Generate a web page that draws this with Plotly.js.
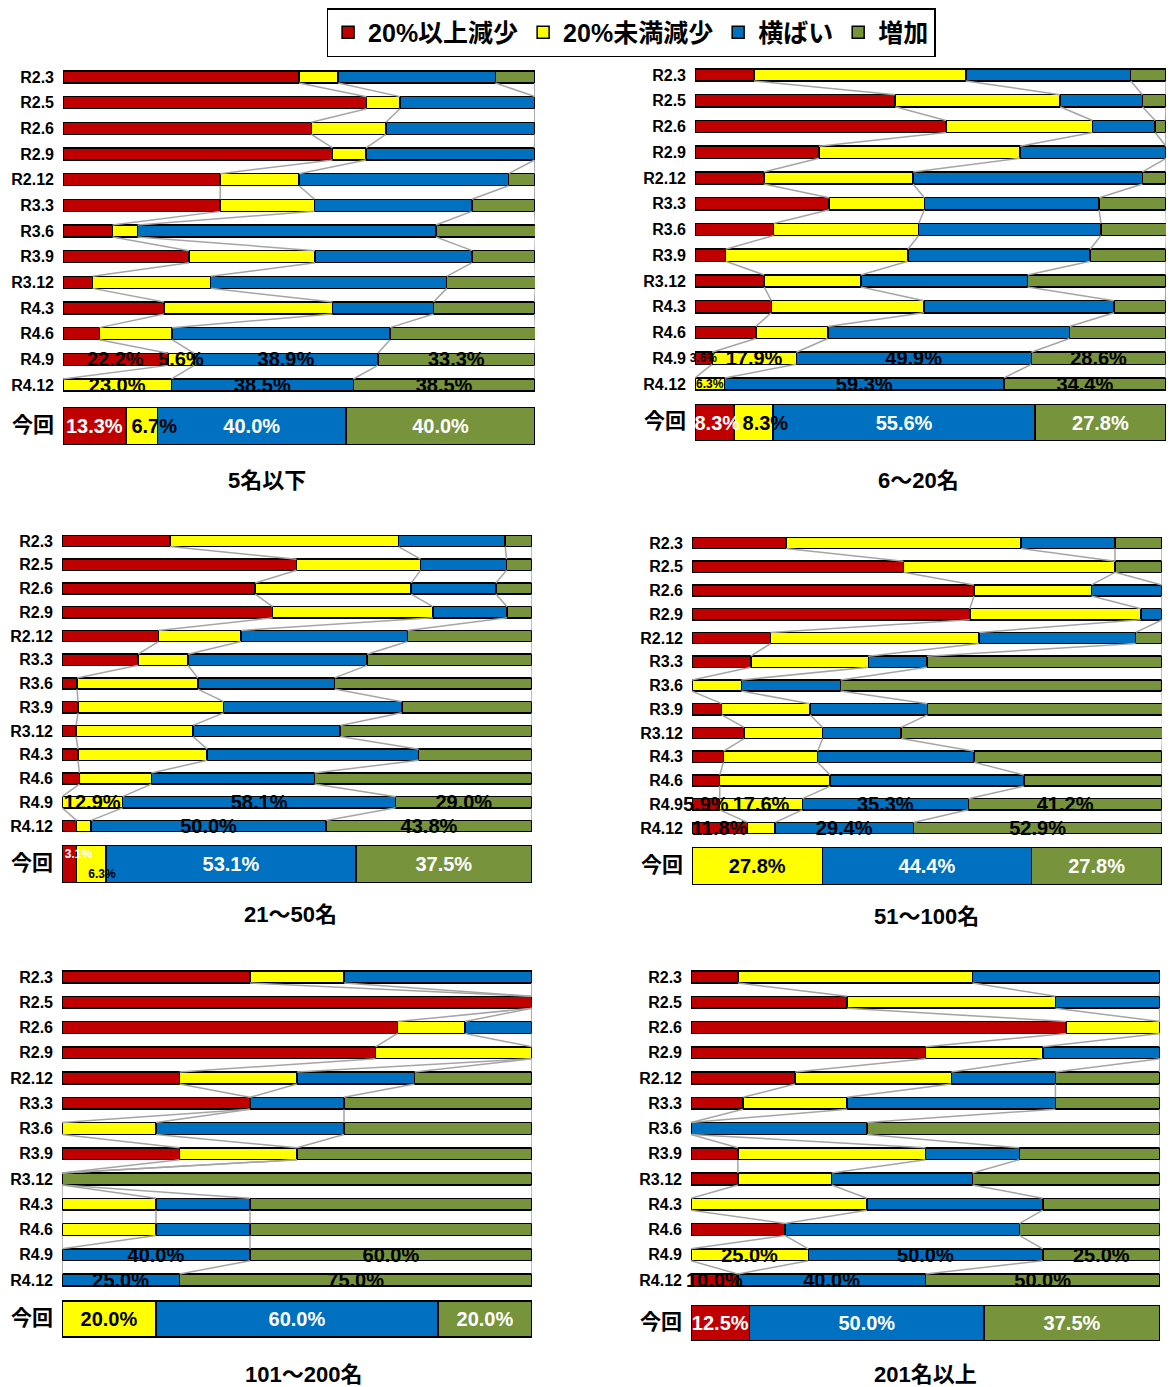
<!DOCTYPE html>
<html>
<head>
<meta charset="utf-8">
<script src="https://cdn.plot.ly/plotly-3.0.1.min.js"></script>
<style>
  body { margin: 0; background: #fff; }
  #chart { width: 1173px; height: 1387px; }
</style>
</head>
<body>
<div id="chart"></div>
<script>
// row labels (last one is the current survey)
var rows = ["R2.3", "R2.5", "R2.6", "R2.9", "R2.12", "R3.3", "R3.6", "R3.9", "R3.12", "R4.3", "R4.6", "R4.9", "R4.12", "今回"];
var seriesNames = ["20%以上減少", "20%未満減少", "横ばい", "増加"];
var seriesColors = ["#C00000", "#FFFF00", "#0070C0", "#77933C"];

// 5名以下
var p1Red    = [50.0, 64.3, 52.6, 57.1, 33.3, 33.3, 10.5, 26.7, 6.3, 21.4, 7.7, 22.2, 0, 13.3];
var p1Yellow = [8.3, 7.1, 15.8, 7.1, 16.7, 20.0, 5.3, 26.7, 25.0, 35.7, 15.4, 5.6, 23.0, 6.7];
var p1Blue   = [33.3, 28.6, 31.6, 35.7, 44.4, 33.3, 63.2, 33.3, 50.0, 21.4, 46.2, 38.9, 38.5, 40.0];
var p1Green  = [8.3, 0, 0, 0, 5.6, 13.3, 21.1, 13.3, 18.8, 21.4, 30.8, 33.3, 38.5, 40.0];

// 6〜20名
var p2Red    = [12.5, 42.5, 53.3, 26.3, 14.6, 28.5, 16.7, 6.5, 14.7, 16.2, 12.9, 3.6, 0, 8.3];
var p2Yellow = [45.0, 35.0, 31.1, 42.7, 31.7, 20.2, 30.8, 38.7, 20.5, 32.4, 15.3, 17.9, 6.3, 8.3];
var p2Blue   = [35.0, 17.5, 13.3, 31.0, 48.7, 37.1, 38.7, 38.7, 35.4, 40.4, 51.3, 49.9, 59.3, 55.6];
var p2Green  = [7.5, 5.0, 2.2, 0, 5.0, 14.2, 13.9, 16.1, 29.4, 10.9, 20.5, 28.6, 34.4, 27.8];

// 21〜50名
var p3Red    = [23.0, 49.9, 41.1, 44.8, 20.5, 16.2, 3.2, 3.4, 3.0, 3.4, 3.7, 0, 3.1, 3.1];
var p3Yellow = [48.6, 26.4, 33.2, 34.1, 17.6, 10.6, 25.7, 31.0, 24.9, 27.5, 15.3, 12.9, 3.1, 6.3];
var p3Blue   = [22.7, 18.3, 18.0, 15.8, 35.4, 38.1, 29.1, 37.9, 31.3, 45.0, 34.7, 58.1, 50.0, 53.1];
var p3Green  = [5.7, 5.4, 7.7, 5.3, 26.5, 35.1, 42.0, 27.7, 40.8, 24.1, 46.3, 29.0, 43.8, 37.5];

// 51〜100名
var p4Red    = [20.0, 45.0, 60.0, 59.1, 16.7, 12.5, 0, 6.3, 11.1, 6.7, 5.9, 5.9, 11.8, 0];
var p4Yellow = [50.0, 45.0, 25.0, 36.4, 44.4, 25.0, 10.5, 18.8, 16.7, 20.0, 23.5, 17.6, 5.9, 27.8];
var p4Blue   = [20.0, 0, 15.0, 4.5, 33.3, 12.5, 21.1, 25.0, 16.7, 33.3, 41.2, 35.3, 29.4, 44.4];
var p4Green  = [10.0, 10.0, 0, 0, 5.6, 50.0, 68.4, 50.0, 55.6, 40.0, 29.4, 41.2, 52.9, 27.8];

// 101〜200名
var p5Red    = [40.0, 100.0, 71.4, 66.7, 25.0, 40.0, 0, 25.0, 0, 0, 0, 0, 0, 0];
var p5Yellow = [20.0, 0, 14.3, 33.3, 25.0, 0, 20.0, 25.0, 0, 20.0, 20.0, 0, 0, 20.0];
var p5Blue   = [40.0, 0, 14.3, 0, 25.0, 20.0, 40.0, 0, 0, 20.0, 20.0, 40.0, 25.0, 60.0];
var p5Green  = [0, 0, 0, 0, 25.0, 40.0, 40.0, 50.0, 100.0, 60.0, 60.0, 60.0, 75.0, 20.0];

// 201名以上
var p6Red    = [10.0, 33.3, 80.0, 50.0, 22.2, 11.1, 0, 10.0, 10.0, 0, 20.0, 0, 10.0, 12.5];
var p6Yellow = [50.0, 44.4, 20.0, 25.0, 33.3, 22.2, 0, 40.0, 20.0, 37.5, 0, 25.0, 0, 0];
var p6Blue   = [40.0, 22.2, 0, 25.0, 22.2, 44.4, 37.5, 20.0, 30.0, 37.5, 50.0, 50.0, 40.0, 50.0];
var p6Green  = [0, 0, 0, 0, 22.2, 22.2, 62.5, 30.0, 40.0, 25.0, 30.0, 25.0, 50.0, 37.5];

var panelTitles = ["5名以下", "6〜20名", "21〜50名", "51〜100名", "101〜200名", "201名以上"];

// labels the original leaves out, and the ones printed small: [panel, row, series]
var hiddenLabels = [[2, 12, 0], [2, 12, 1], [3, 12, 1]];
var smallLabels = [[1, 11, 0], [1, 12, 1], [2, 13, 0], [2, 13, 1]];
// nudges for crowded 今回 labels: [panel, row, series, dy (rows), dx (% units)]
var labelShift = [
  [0, 13, 1, 0, 2.7],
  [1, 13, 0, 0, 0.6],
  [1, 13, 1, 0, 2.5],
  [2, 13, 0, -0.4, 2.0],
  [2, 13, 1, 0.42, 2.3]
];

var panels = [
  {vals: [p1Red, p1Yellow, p1Blue, p1Green], x0: 63, x1: 535, y0: 77, y12: 385, nowPos: 13.6, nowW: 1.45, tx: 267, ty: 481},
  {vals: [p2Red, p2Yellow, p2Blue, p2Green], x0: 695, x1: 1166, y0: 75, y12: 384, nowPos: 13.5, nowW: 1.4, tx: 918, ty: 480},
  {vals: [p3Red, p3Yellow, p3Blue, p3Green], x0: 62, x1: 532, y0: 541, y12: 826, nowPos: 13.6, nowW: 1.56, tx: 290, ty: 914},
  {vals: [p4Red, p4Yellow, p4Blue, p4Green], x0: 692, x1: 1162, y0: 543, y12: 828, nowPos: 13.6, nowW: 1.56, tx: 926, ty: 916},
  {vals: [p5Red, p5Yellow, p5Blue, p5Green], x0: 62, x1: 532, y0: 977, y12: 1280, nowPos: 13.55, nowW: 1.43, tx: 303, ty: 1374},
  {vals: [p6Red, p6Yellow, p6Blue, p6Green], x0: 691, x1: 1160, y0: 977, y12: 1280, nowPos: 13.7, nowW: 1.39, tx: 925, ty: 1374}
];

var W = 1173, H = 1387;
var FONT = "Liberation Sans, Arial, 'Noto Sans CJK JP', sans-serif";
var rowW = 0.47;

function findIn(list, p, r, s) {
  for (var i = 0; i < list.length; i++) {
    if (list[i][0] == p && list[i][1] == r && list[i][2] == s) return list[i];
  }
  return null;
}

var bars = [], labels = [], lines = [];
var layout = {
  width: W, height: H,
  margin: {l: 0, r: 0, t: 0, b: 0},
  paper_bgcolor: "#fff", plot_bgcolor: "rgba(0,0,0,0)",
  font: {family: FONT, weight: "bold", color: "#000"},
  barmode: "stack",
  hovermode: false,
  showlegend: true,
  legend: {
    orientation: "h", x: 0.538, xanchor: "center", y: 1 - 8 / H, yanchor: "top",
    bordercolor: "#000", borderwidth: 1.5, bgcolor: "#fff",
    font: {size: 25, family: FONT, weight: "bold"}, traceorder: "normal", itemwidth: 30
  },
  annotations: []
};

panels.forEach(function (p, k) {
  var ax = k == 0 ? "" : String(k + 1);
  var s = (p.y12 - p.y0) / 12;
  var yTop = -0.45, yBot = p.nowPos + p.nowW / 2 + 0.05;

  var pos = [], widths = [];
  for (var i = 0; i < rows.length; i++) {
    pos.push(i < 13 ? i : p.nowPos);
    widths.push(i < 13 ? rowW : p.nowW);
  }

  var start = pos.map(function () { return 0; });
  p.vals.forEach(function (v, j) {
    bars.push({
      type: "bar", orientation: "h",
      x: v, y: pos, width: widths,
      name: seriesNames[j], legendgroup: seriesNames[j], showlegend: k == 0,
      marker: {color: seriesColors[j], line: {color: "#000", width: 1.5}},
      xaxis: "x" + ax, yaxis: "y" + ax
    });

    // labels go on transparent bars with an explicit base, so they sit above every segment
    var txt = [], sizes = [], cols = [], ly = [], lb = [];
    for (var i = 0; i < v.length; i++) {
      var show = i >= 11 && v[i] > 0 && !findIn(hiddenLabels, k, i, j);
      txt.push(show ? v[i].toFixed(1) + "%" : "");
      sizes.push(findIn(smallLabels, k, i, j) ? 12 : 20);
      cols.push(i == 13 && j != 1 ? "#fff" : "#000");
      var sh = findIn(labelShift, k, i, j);
      ly.push(pos[i] + (sh ? sh[3] : 0));
      lb.push(start[i] + (sh ? sh[4] : 0));
    }
    labels.push({
      type: "bar", orientation: "h",
      x: v, base: lb, y: ly, width: widths,
      showlegend: false, hoverinfo: "skip",
      marker: {color: "rgba(0,0,0,0)", line: {width: 0}},
      text: txt, textposition: "inside", insidetextanchor: "middle",
      textangle: 0, constraintext: "none", cliponaxis: false,
      textfont: {size: sizes, color: cols, family: FONT, weight: "bold"},
      xaxis: "x" + ax, yaxis: "y" + ax
    });
    for (var i = 0; i < v.length; i++) start[i] += v[i];
  });

  // series lines between the 13 history bars
  var lx = [], lyy = [];
  var cum = [];
  for (var i = 0; i < 13; i++) {
    var c = 0, row = [];
    for (var j = 0; j < 4; j++) { c += p.vals[j][i]; row.push(c); }
    cum.push(row);
  }
  for (var j = 0; j < 4; j++) {
    for (var i = 0; i < 12; i++) {
      lx.push(cum[i][j], cum[i + 1][j], null);
      lyy.push(i + rowW / 2, i + 1 - rowW / 2, null);
    }
  }
  lines.push({
    type: "scatter", mode: "lines", x: lx, y: lyy,
    line: {color: "#a5a5a5", width: 1.5},
    showlegend: false, hoverinfo: "skip", cliponaxis: false,
    xaxis: "x" + ax, yaxis: "y" + ax
  });

  var tickText = rows.map(function (r, i) {
    return i == 13 ? '<span style="font-size:21px">' + r + '</span>' : r;
  });

  layout["xaxis" + ax] = {
    domain: [p.x0 / W, p.x1 / W], range: [0, 100], fixedrange: true,
    showgrid: false, zeroline: false, showticklabels: false, ticks: "",
    anchor: "y" + ax
  };
  layout["yaxis" + ax] = {
    domain: [1 - (p.y0 + yBot * s) / H, 1 - (p.y0 + yTop * s) / H],
    range: [yBot, yTop], fixedrange: true,
    showgrid: false, zeroline: false, ticks: "",
    tickvals: pos, ticktext: tickText,
    tickfont: {size: 16, family: FONT, weight: "bold", color: "#000"},
    ticklabelstandoff: 8,
    anchor: "x" + ax
  };

  layout.annotations.push({
    xref: "paper", yref: "paper", x: p.tx / W, y: 1 - p.ty / H,
    xanchor: "center", yanchor: "middle", showarrow: false,
    text: panelTitles[k], font: {size: 22, family: FONT, weight: "bold", color: "#000"}
  });
});

var data = bars.concat(lines).concat(labels);
Plotly.newPlot("chart", data, layout, {displayModeBar: false, staticPlot: true});
</script>
</body>
</html>
